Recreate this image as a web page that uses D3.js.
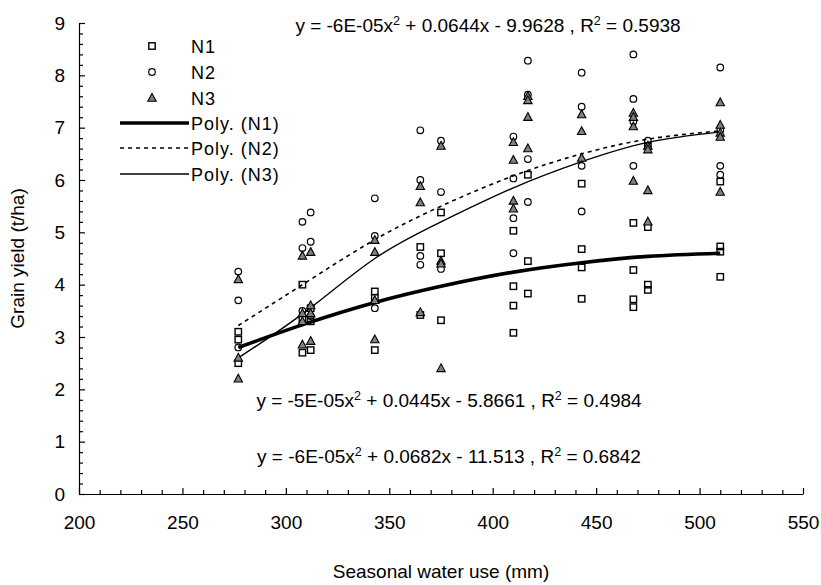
<!DOCTYPE html>
<html><head><meta charset="utf-8">
<script src="https://cdn.jsdelivr.net/npm/d3@7/dist/d3.min.js"></script>
<style>
body{margin:0;background:#fff}
svg{display:block;font-family:Arial,"Liberation Sans",sans-serif}
</style>
</head><body>
<svg id="chart" width="821" height="585"></svg>
<script>
// ---------- data ----------
const xTickValues = [200, 250, 300, 350, 400, 450, 500, 550];
const yTickValues = [0, 1, 2, 3, 4, 5, 6, 7, 8, 9];
const seriesNames = ["N1", "N2", "N3"];
const trendNames = ["Poly. (N1)", "Poly. (N2)", "Poly. (N3)"];

// [seasonal water use (mm), grain yield (t/ha)]
const n1 = [
  [277,3.1],[277,2.95],[277,2.5],
  [308,4.0],[308,3.35],[308,2.7],
  [312,3.55],[312,3.3],[312,2.75],
  [343,3.87],[343,3.75],[343,2.75],
  [365,4.72],[365,3.42],
  [375,5.38],[375,4.6],[375,3.32],
  [410,5.03],[410,3.97],[410,3.6],[410,3.08],
  [417,6.1],[417,4.45],[417,3.83],
  [443,5.93],[443,4.68],[443,4.33],[443,3.73],
  [468,5.18],[468,4.28],[468,3.72],[468,3.57],
  [475,6.65],[475,5.1],[475,4.0],[475,3.9],
  [510,5.97],[510,4.73],[510,4.63],[510,4.15]
];
const n2 = [
  [277,4.25],[277,3.7],[277,2.8],
  [308,5.2],[308,4.7],[308,3.5],
  [312,5.38],[312,4.82],[312,3.4],
  [343,5.65],[343,4.93],[343,3.55],
  [365,6.95],[365,6.0],[365,4.55],[365,4.38],
  [375,6.75],[375,5.77],[375,4.3],
  [410,6.83],[410,6.03],[410,5.27],[410,4.6],
  [417,8.28],[417,7.63],[417,6.4],[417,5.58],
  [443,8.05],[443,7.4],[443,6.27],[443,5.4],
  [468,8.4],[468,7.55],[468,7.12],[468,6.27],
  [475,6.75],
  [510,8.15],[510,6.95],[510,6.27],[510,6.1]
];
const n3 = [
  [277,4.1],[277,2.6],[277,2.2],
  [308,4.55],[308,3.45],[308,3.3],[308,2.85],
  [312,4.62],[312,3.6],[312,3.45],[312,2.92],
  [343,4.85],[343,4.62],[343,3.7],[343,2.95],
  [365,5.88],[365,5.57],[365,3.47],
  [375,6.65],[375,4.45],[375,4.4],[375,2.4],
  [410,6.72],[410,6.38],[410,5.6],[410,5.45],
  [417,7.6],[417,7.52],[417,7.2],[417,6.6],
  [443,7.25],[443,6.93],[443,6.42],
  [468,7.28],[468,7.2],[468,7.02],[468,5.98],
  [475,6.65],[475,6.58],[475,5.8],[475,5.2],
  [510,7.48],[510,7.05],[510,6.9],[510,6.82],[510,5.77]
];
// polynomial trendline values
const trendX  = [277, 310, 343, 375, 410, 443, 475, 510];
const trendN1 = [2.80, 3.26, 3.66, 3.97, 4.24, 4.42, 4.54, 4.60];
const trendN2 = [3.22, 4.05, 4.86, 5.50, 6.08, 6.50, 6.78, 6.94];
const trendN3 = [2.60, 3.50, 4.50, 5.20, 5.85, 6.35, 6.72, 6.92];

// equation labels: [before sup, between sups, after]
const equationN2 = ["y = -6E-05x", " + 0.0644x - 9.9628 , R", " = 0.5938"];
const equationN1 = ["y = -5E-05x", " + 0.0445x - 5.8661 , R", " = 0.4984"];
const equationN3 = ["y = -6E-05x", " + 0.0682x - 11.513 , R", " = 0.6842"];
const xTitle = "Seasonal water use (mm)";
const yTitle = "Grain yield (t/ha)";

// ---------- layout ----------
const svg = d3.select("#chart");
const x = d3.scaleLinear().domain([200, 550]).range([79, 803]);
const y = d3.scaleLinear().domain([0, 9]).range([494, 23]);
const FONT = 19;

// ---------- axes ----------
const yAxis = d3.axisLeft(y).tickValues(yTickValues).tickSizeInner(-6).tickSizeOuter(0).tickPadding(14);
svg.append("g").attr("transform", `translate(${x(200)},0)`).call(yAxis);
const yMinor = d3.range(0, 9.0001, 0.2).filter(v => Math.abs(v - Math.round(v)) > 1e-6);
svg.append("g").attr("transform", `translate(${x(200)},0)`)
  .call(d3.axisLeft(y).tickValues(yMinor).tickSizeInner(-4).tickSizeOuter(0).tickFormat(""))
  .select(".domain").remove();

const xAxis = d3.axisBottom(x).tickValues(xTickValues).tickSizeInner(-6).tickSizeOuter(0).tickPadding(22);
svg.append("g").attr("transform", `translate(0,${y(0)})`).call(xAxis);
const xMinor = d3.range(200, 550.001, 10).filter(v => v % 50 !== 0);
svg.append("g").attr("transform", `translate(0,${y(0)})`)
  .call(d3.axisBottom(x).tickValues(xMinor).tickSizeInner(-4).tickSizeOuter(0).tickFormat(""))
  .select(".domain").remove();

svg.selectAll(".tick text").attr("font-size", FONT).attr("font-family", "Arial, 'Liberation Sans', sans-serif").attr("fill", "#000");
svg.selectAll(".domain, .tick line").attr("stroke", "#000").attr("stroke-width", 1.2);

svg.append("text").attr("x", (x(200) + x(550)) / 2).attr("y", 578)
  .attr("text-anchor", "middle").attr("font-size", FONT).text(xTitle);
svg.append("text").attr("transform", `translate(24,${(y(0) + y(9)) / 2}) rotate(-90)`)
  .attr("text-anchor", "middle").attr("font-size", FONT).text(yTitle);

// ---------- trendlines ----------
const datasets = [n1, n2, n3];
const trends = [trendN1, trendN2, trendN3];
const lineStyles = [
  {w: 3.6, dash: null},
  {w: 1.6, dash: "4,4"},
  {w: 1.4, dash: null}
];
const line = d3.line().x(d => x(d[0])).y(d => y(d[1])).curve(d3.curveNatural);
trends.forEach((tv, i) => {
  const pts = trendX.map((xv, j) => [xv, tv[j]]);
  svg.append("path").attr("d", line(pts)).attr("fill", "none")
    .attr("stroke", "#000").attr("stroke-width", lineStyles[i].w)
    .attr("stroke-dasharray", lineStyles[i].dash);
});

// ---------- markers ----------
function drawMarker(g, kind, cx, cy) {
  if (kind === 0) {
    g.append("rect").attr("x", cx - 3.2).attr("y", cy - 3.2).attr("width", 6.4).attr("height", 6.4)
      .attr("fill", "none").attr("stroke", "#000").attr("stroke-width", 1.4);
  } else if (kind === 1) {
    g.append("circle").attr("cx", cx).attr("cy", cy).attr("r", 3.3)
      .attr("fill", "none").attr("stroke", "#000").attr("stroke-width", 1.2);
  } else {
    g.append("path").attr("d", `M${cx},${cy - 4.6}L${cx + 4.2},${cy + 3.2}L${cx - 4.2},${cy + 3.2}Z`)
      .attr("fill", "#808080").attr("stroke", "#000").attr("stroke-width", 1.1);
  }
}
const gm = svg.append("g");
datasets.forEach((ds, i) => ds.forEach(d => drawMarker(gm, i, x(d[0]), y(d[1]))));

// ---------- legend ----------
const lg = svg.append("g");
const rowY = [46, 72, 98, 123, 148, 174];
seriesNames.forEach((n, i) => {
  drawMarker(lg, i, 152, rowY[i]);
  lg.append("text").attr("x", 191).attr("y", rowY[i] + 6.5).attr("font-size", 18)
    .attr("letter-spacing", 1).text(n);
});
trendNames.forEach((n, i) => {
  const yy = rowY[i + 3];
  lg.append("line").attr("x1", 120).attr("x2", 189).attr("y1", yy).attr("y2", yy)
    .attr("stroke", "#000").attr("stroke-width", lineStyles[i].w)
    .attr("stroke-dasharray", lineStyles[i].dash);
  lg.append("text").attr("x", 191).attr("y", yy + 6.5).attr("font-size", 18)
    .attr("letter-spacing", 1).text(n);
});

// ---------- equations ----------
function equation(parts, cx, baseline) {
  const t = svg.append("text").attr("x", cx).attr("y", baseline)
    .attr("text-anchor", "middle").attr("font-size", FONT);
  t.append("tspan").text(parts[0]);
  t.append("tspan").attr("dy", -7).attr("font-size", 12.5).text("2");
  t.append("tspan").attr("dy", 7).text(parts[1]);
  t.append("tspan").attr("dy", -7).attr("font-size", 12.5).text("2");
  t.append("tspan").attr("dy", 7).text(parts[2]);
}
equation(equationN2, 488, 32);
equation(equationN1, 449, 407);
equation(equationN3, 449, 463);
</script>
</body></html>
